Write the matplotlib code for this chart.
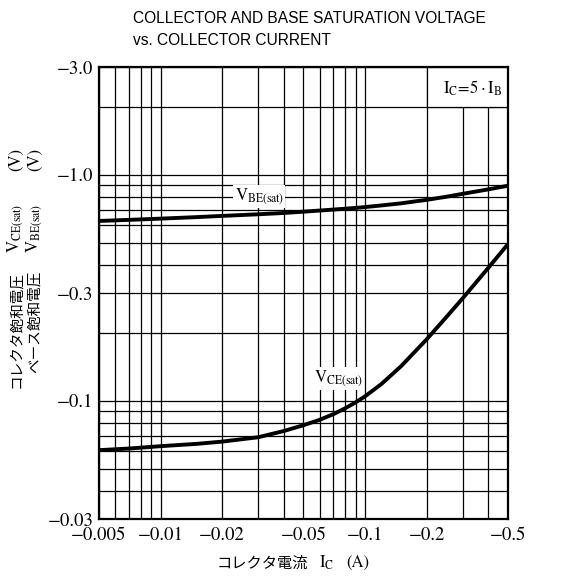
import matplotlib
matplotlib.use('Agg')
import matplotlib.pyplot as plt
from matplotlib.ticker import FixedLocator, FixedFormatter, NullFormatter, LogLocator
from matplotlib.patches import Rectangle

# ---- data ----
ic = [0.005, 0.007, 0.01, 0.015, 0.02, 0.03, 0.04, 0.05, 0.06, 0.07,
      0.08, 0.09, 0.1, 0.12, 0.15, 0.2, 0.25, 0.3, 0.4, 0.5]
vce_sat = [0.0605, 0.0615, 0.063, 0.0645, 0.066, 0.069, 0.0735, 0.078, 0.0824, 0.0873,
           0.0927, 0.0985, 0.1047, 0.1185, 0.1423, 0.187, 0.235, 0.284, 0.387, 0.494]
vbe_sat = [0.625, 0.632, 0.640, 0.650, 0.658, 0.669, 0.678, 0.687, 0.695, 0.702,
           0.708, 0.714, 0.720, 0.732, 0.748, 0.775, 0.800, 0.824, 0.862, 0.895]

x_ticks = [0.005, 0.01, 0.02, 0.05, 0.1, 0.2, 0.5]
x_labels = ['\u22120.005', '\u22120.01', '\u22120.02', '\u22120.05', '\u22120.1', '\u22120.2', '\u22120.5']
y_ticks = [0.03, 0.1, 0.3, 1.0, 3.0]
y_labels = ['\u22120.03', '\u22120.1', '\u22120.3', '\u22121.0', '\u22123.0']

title_1 = 'COLLECTOR AND BASE SATURATION VOLTAGE'
title_2 = 'vs. COLLECTOR CURRENT'

plt.rcParams['mathtext.fontset'] = 'stix'
plt.rcParams['font.family'] = ['STIXGeneral', 'DejaVu Sans']

W = 578.0
def px(x, y):
    return x / W, 1 - y / W

fig = plt.figure(figsize=(5.78, 5.78), dpi=100)
ax = fig.add_axes([99 / W, 1 - 519 / W, 409 / W, 452 / W])
ax.set_xscale('log')
ax.set_yscale('log')
ax.set_xlim(0.005, 0.5)
ax.set_ylim(0.03, 3.0)

ax.xaxis.set_major_locator(FixedLocator(x_ticks))
ax.xaxis.set_major_formatter(FixedFormatter(x_labels))
ax.xaxis.set_minor_locator(LogLocator(base=10, subs=range(1, 10), numticks=50))
ax.xaxis.set_minor_formatter(NullFormatter())
ax.yaxis.set_major_locator(FixedLocator(y_ticks))
ax.yaxis.set_major_formatter(FixedFormatter(y_labels))
ax.yaxis.set_minor_locator(LogLocator(base=10, subs=range(1, 10), numticks=50))
ax.yaxis.set_minor_formatter(NullFormatter())

ax.set_axisbelow(True)
ax.grid(which='both', color='black', lw=0.9)
ax.tick_params(which='both', length=0)
ax.tick_params(axis='x', pad=6, labelsize=13.5)
ax.tick_params(axis='y', pad=4, labelsize=13.5)
for sp in ax.spines.values():
    sp.set_linewidth(1.6)

# condition box in the top-right cell
ax.add_patch(Rectangle((0.2, 2.0), 0.3, 1.0, facecolor='white', edgecolor='black',
                       lw=0.9, zorder=1.5))
ax.text(0.335, 2.42, r'$\mathrm{I_C\!=\!5\cdot I_B}$', ha='center', va='center',
        fontsize=12, zorder=4)

ax.plot(ic, vbe_sat, color='black', lw=2.8, zorder=3, solid_capstyle='butt')
ax.plot(ic, vce_sat, color='black', lw=2.8, zorder=3, solid_capstyle='butt')

lab_box = dict(facecolor='white', edgecolor='none', pad=1.0)
ax.text(0.0304, 0.80, r'$\mathrm{V_{BE(sat)}}$', ha='center', va='center',
        fontsize=12, bbox=lab_box, zorder=4)
ax.text(0.074, 0.125, r'$\mathrm{V_{CE(sat)}}$', ha='center', va='center',
        fontsize=12, bbox=lab_box, zorder=4)

# title
fig.text(*px(133, 23), title_1, ha='left', va='baseline', family='Liberation Sans', fontsize=11.2)
fig.text(*px(133, 45), title_2, ha='left', va='baseline', family='Liberation Sans', fontsize=11.2)

# y label: two rotated columns
jp = ['Noto Sans CJK JP', 'DejaVu Sans']
for xc, jtxt, sym in [(16, 'コレクタ飽和電圧', r'$\mathrm{V_{CE(sat)}}$'),
                      (35, 'ベース飽和電圧', r'$\mathrm{V_{BE(sat)}}$')]:
    fig.text(*px(xc, 271), jtxt, rotation=90, ha='center', va='top', family=jp, fontsize=10.5)
    fig.text(*px(xc, 253), sym, rotation=90, ha='center', va='bottom', fontsize=12)
    fig.text(*px(xc, 148), '(V)', rotation=90, ha='center', va='top', fontsize=12)

# x label
fig.text(*px(308, 563), 'コレクタ電流', ha='right', va='center', family=jp, fontsize=11)
fig.text(*px(319, 563), r'$\mathrm{I_C}$', ha='left', va='center', fontsize=12)
fig.text(*px(346, 563), '(A)', ha='left', va='center', fontsize=12)

fig.savefig('out.png', dpi=100, facecolor='white')
